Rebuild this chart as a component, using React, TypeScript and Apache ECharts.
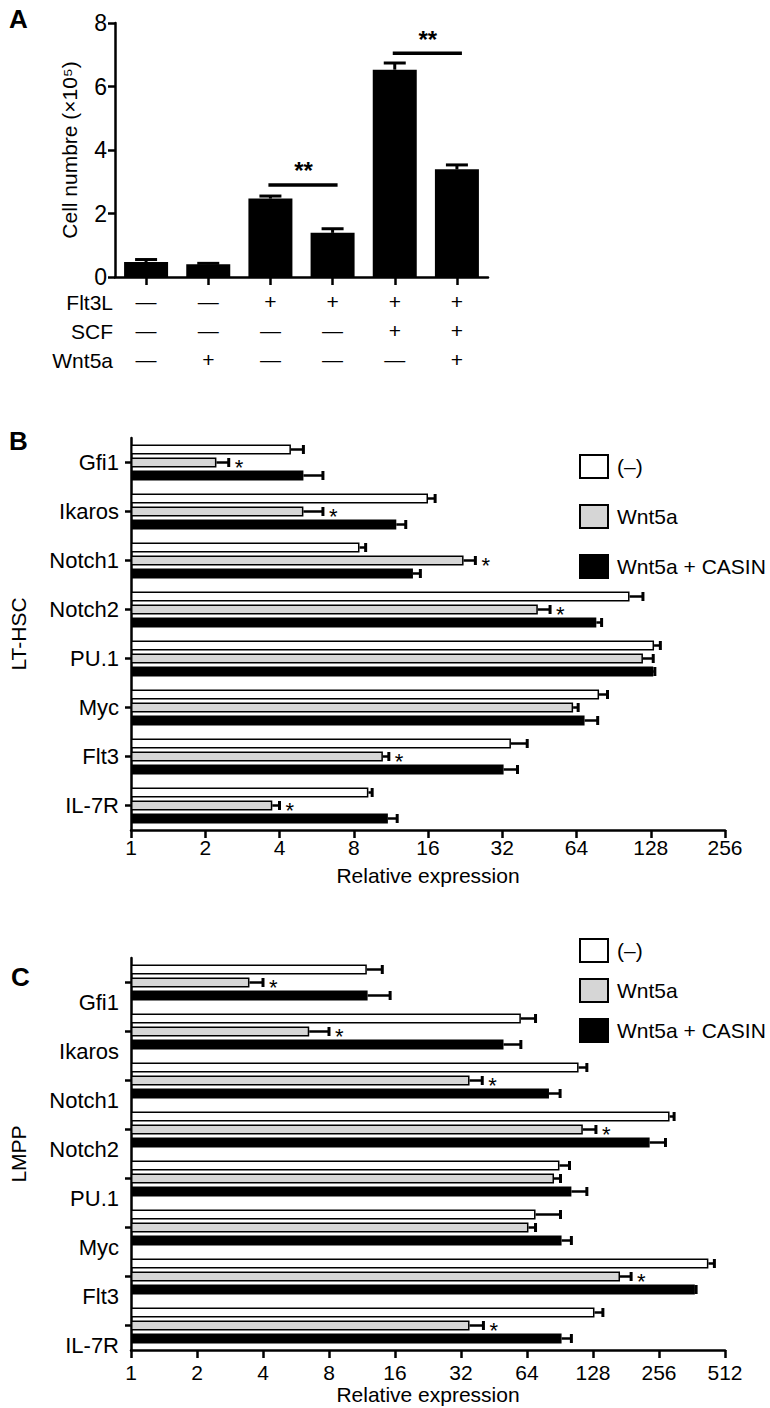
import React, { useEffect, useRef } from 'react';
import * as echarts from 'echarts';

const FONT = '"Liberation Sans", Arial, Helvetica, sans-serif';

// ---------- Panel A ----------
const aValues = [0.47, 0.4, 2.47, 1.39, 6.53, 3.39];
const aErrors = [0.55, 0.43, 2.55, 1.52, 6.74, 3.53];
const aFlt3L = ['—', '—', '+', '+', '+', '+'];
const aSCF = ['—', '—', '—', '—', '+', '+'];
const aWnt5a = ['—', '+', '—', '—', '—', '+'];
const aRowLabels = ['Flt3L', 'SCF', 'Wnt5a'];
const aSig = [
  { from: 2, to: 3, y: 2.9, text: '**' },
  { from: 4, to: 5, y: 7.05, text: '**' },
];

// ---------- Panels B / C ----------
const genes = ['Gfi1', 'Ikaros', 'Notch1', 'Notch2', 'PU.1', 'Myc', 'Flt3', 'IL-7R'];
const seriesNames = ['(–)', 'Wnt5a', 'Wnt5a + CASIN'];
const seriesFill = ['#ffffff', '#d6d6d6', '#000000'];

const bCtrl = [4.45, 16.0, 8.44, 105, 132, 79, 34.7, 9.17];
const bCtrlErr = [5.0, 17.1, 8.94, 119, 140, 85.5, 40.4, 9.5];
const bWnt = [2.22, 5.0, 22.3, 44.6, 119, 62, 10.5, 3.74];
const bWntErr = [2.49, 6.0, 24.9, 50, 131, 65, 11.1, 4.0];
const bCasin = [5.0, 11.9, 13.9, 77, 131, 69, 32.4, 11.0];
const bCasinErr = [6.0, 13.0, 14.9, 80.9, 133, 78, 36.9, 12.0];
const bStars = ['*', '*', '*', '*', '', '', '*', '*'];

const cCtrl = [11.9, 60, 110, 286, 90, 70, 430, 130];
const cCtrlErr = [14.0, 70, 120, 300, 100, 91, 458, 142];
const cWnt = [3.47, 6.5, 35, 115, 85, 65, 170, 35];
const cWntErr = [4.0, 8.0, 40, 132, 91, 70, 191, 40.5];
const cCasin = [12.0, 50, 80.6, 232, 102, 92, 373, 92];
const cCasinErr = [15.2, 60, 90.6, 274, 120, 102, 378, 102];
const cStars = ['*', '*', '*', '*', '', '', '*', '*'];

const BAR_H = 10;
const BAR_STEP = 13;

function barSeries(name: string, idx: number, axis: number, data: number[]) {
  return {
    name,
    type: 'bar',
    xAxisIndex: axis,
    yAxisIndex: axis,
    data,
    barWidth: BAR_H,
    barGap: '30%',
    itemStyle: { color: seriesFill[idx], borderColor: '#000', borderWidth: 1.5 },
    z: 2,
  };
}

function hErrSeries(axis: number, vals: number[][], errs: number[][], stars: string[]) {
  const data: number[][] = [];
  const starList: string[] = [];
  vals.forEach((g, s) =>
    g.forEach((v, c) => {
      data.push([v, c, errs[s][c], s]);
      starList.push(s === 1 ? stars[c] : '');
    })
  );
  return {
    type: 'custom',
    xAxisIndex: axis,
    yAxisIndex: axis,
    data,
    encode: { x: [0, 2], y: 1 },
    z: 5,
    renderItem: (params: any, api: any) => {
      const v = api.value(0);
      const c = api.value(1);
      const e = api.value(2);
      const s = api.value(3);
      const p0 = api.coord([v, c]);
      const p1 = api.coord([e, c]);
      const y = p0[1] + (s - 1) * BAR_STEP;
      const children: any[] = [
        { type: 'line', shape: { x1: p0[0], y1: y, x2: p1[0], y2: y }, style: { stroke: '#000', lineWidth: 2.5 } },
        { type: 'line', shape: { x1: p1[0], y1: y - 4.5, x2: p1[0], y2: y + 4.5 }, style: { stroke: '#000', lineWidth: 3 } },
      ];
      const st = starList[params.dataIndex];
      if (st) {
        children.push({
          type: 'text',
          style: { text: st, x: p1[0] + 6, y: y + 5, align: 'left', verticalAlign: 'middle', font: `22px ${FONT}`, fill: '#000' },
        });
      }
      return { type: 'group', children };
    },
  };
}

function legend(top: number, gap: number) {
  return {
    orient: 'vertical',
    left: 574,
    top,
    itemWidth: 28,
    itemHeight: 23,
    itemGap: gap,
    icon: 'rect',
    selectedMode: false,
    textStyle: { fontSize: 21, color: '#000', fontFamily: FONT, padding: [0, 0, 0, 4] },
    data: seriesNames.map((n, i) => ({
      name: n,
      itemStyle: { color: seriesFill[i], borderColor: '#000', borderWidth: 2 },
    })),
  };
}

const axisLineStyle = { color: '#000', width: 2.5 };

function logXAxis(grid: number, max: number, margin: number, nameGap: number) {
  return {
    type: 'log',
    logBase: 2,
    gridIndex: grid,
    min: 1,
    max,
    axisLine: { show: true, lineStyle: axisLineStyle },
    axisTick: { show: true, length: 8, lineStyle: axisLineStyle },
    axisLabel: {
      fontSize: 21,
      color: '#000',
      fontFamily: FONT,
      margin,
      formatter: (v: number) => String(Math.round(v)),
    },
    splitLine: { show: false },
    minorTick: { show: false },
    name: 'Relative expression',
    nameLocation: 'middle',
    nameGap,
    nameTextStyle: { fontSize: 21, color: '#000', fontFamily: FONT },
  };
}

function catYAxis(grid: number, name: string, shifted: boolean) {
  return {
    type: 'category',
    gridIndex: grid,
    inverse: true,
    data: genes,
    axisLine: { show: true, lineStyle: axisLineStyle },
    axisTick: { show: true, alignWithLabel: true, length: 6, lineStyle: axisLineStyle },
    axisLabel: {
      fontSize: 22,
      color: '#000',
      fontFamily: FONT,
      margin: 12,
      interval: 0,
      lineHeight: shifted ? 40 : 24,
      formatter: shifted ? (v: string) => ` \n${v}` : (v: string) => v,
    },
    name,
    nameLocation: 'middle',
    nameRotate: 90,
    nameGap: 102,
    nameTextStyle: { fontSize: 21, color: '#000', fontFamily: FONT },
  };
}

function buildOption() {
  const aCats = aFlt3L.map((f, i) => `${f}\n${aSCF[i]}\n${aWnt5a[i]}`);
  return {
    animation: false,
    backgroundColor: '#fff',
    textStyle: { fontFamily: FONT },
    grid: [
      { left: 115, top: 23, width: 373, height: 254 },
      { left: 127, top: 438, width: 598, height: 392 },
      { left: 127, top: 958, width: 598, height: 392 },
    ],
    legend: [legend(449, 25), legend(933, 15)],
    xAxis: [
      {
        type: 'category',
        gridIndex: 0,
        data: aCats,
        axisLine: { show: true, lineStyle: axisLineStyle },
        axisTick: { show: true, alignWithLabel: true, length: 8, lineStyle: axisLineStyle },
        axisLabel: { fontSize: 21, lineHeight: 29, color: '#000', fontFamily: FONT, margin: 10, interval: 0 },
      },
      logXAxis(1, 256, 7, 35),
      logXAxis(2, 512, 12, 32),
    ],
    yAxis: [
      {
        type: 'value',
        gridIndex: 0,
        min: 0,
        max: 8,
        interval: 2,
        axisLine: { show: true, lineStyle: axisLineStyle },
        axisTick: { show: true, length: 7, lineStyle: axisLineStyle },
        axisLabel: { fontSize: 23, color: '#000', fontFamily: FONT, margin: 8 },
        splitLine: { show: false },
        name: 'Cell numbre (×10⁵)',
        nameLocation: 'middle',
        nameGap: 35,
        nameTextStyle: { fontSize: 21, color: '#000', fontFamily: FONT },
      },
      catYAxis(1, 'LT-HSC', false),
      catYAxis(2, 'LMPP', true),
    ],
    graphic: [
      { type: 'text', left: 9, top: 6, style: { text: 'A', font: `bold 26px ${FONT}`, fill: '#000' } },
      { type: 'text', left: 9, top: 428, style: { text: 'B', font: `bold 26px ${FONT}`, fill: '#000' } },
      { type: 'text', left: 11, top: 964, style: { text: 'C', font: `bold 26px ${FONT}`, fill: '#000' } },
      ...aRowLabels.map((t, i) => ({
        type: 'text',
        x: 113,
        y: 302 + i * 29,
        style: { text: t, font: `21px ${FONT}`, fill: '#000', align: 'right', verticalAlign: 'middle' },
      })),
    ],
    series: [
      {
        type: 'bar',
        xAxisIndex: 0,
        yAxisIndex: 0,
        data: aValues,
        barWidth: 44,
        itemStyle: { color: '#000' },
      },
      {
        type: 'custom',
        xAxisIndex: 0,
        yAxisIndex: 0,
        data: aValues.map((v, i) => [i, v, aErrors[i]]),
        encode: { x: 0, y: [1, 2] },
        z: 5,
        renderItem: (params: any, api: any) => {
          const p0 = api.coord([api.value(0), api.value(1)]);
          const p1 = api.coord([api.value(0), api.value(2)]);
          return {
            type: 'group',
            children: [
              { type: 'line', shape: { x1: p0[0], y1: p0[1], x2: p1[0], y2: p1[1] }, style: { stroke: '#000', lineWidth: 3 } },
              { type: 'line', shape: { x1: p1[0] - 11, y1: p1[1], x2: p1[0] + 11, y2: p1[1] }, style: { stroke: '#000', lineWidth: 3 } },
            ],
          };
        },
      },
      {
        type: 'custom',
        xAxisIndex: 0,
        yAxisIndex: 0,
        data: aSig.map((s) => [s.from, s.to, s.y]),
        z: 5,
        renderItem: (params: any, api: any) => {
          const a = api.coord([api.value(0), api.value(2)]);
          const b = api.coord([api.value(1), api.value(2)]);
          return {
            type: 'group',
            children: [
              { type: 'line', shape: { x1: a[0] - 2, y1: a[1], x2: b[0] + 5, y2: b[1] }, style: { stroke: '#000', lineWidth: 3.5 } },
              {
                type: 'text',
                style: {
                  text: aSig[params.dataIndex].text,
                  x: (a[0] + b[0]) / 2 + 2,
                  y: a[1] - 2,
                  align: 'center',
                  verticalAlign: 'bottom',
                  font: `bold 24px ${FONT}`,
                  fill: '#000',
                },
              },
            ],
          };
        },
      },
      barSeries(seriesNames[0], 0, 1, bCtrl),
      barSeries(seriesNames[1], 1, 1, bWnt),
      barSeries(seriesNames[2], 2, 1, bCasin),
      hErrSeries(1, [bCtrl, bWnt, bCasin], [bCtrlErr, bWntErr, bCasinErr], bStars),
      barSeries(seriesNames[0], 0, 2, cCtrl),
      barSeries(seriesNames[1], 1, 2, cWnt),
      barSeries(seriesNames[2], 2, 2, cCasin),
      hErrSeries(2, [cCtrl, cWnt, cCasin], [cCtrlErr, cWntErr, cCasinErr], cStars),
    ],
  };
}

export default function App() {
  const ref = useRef<HTMLDivElement>(null);
  useEffect(() => {
    document.body.style.margin = '0';
    const chart = echarts.init(ref.current!, null, { renderer: 'svg' });
    chart.setOption(buildOption() as any);
    return () => chart.dispose();
  }, []);
  return <div ref={ref} style={{ width: 770, height: 1408, background: '#fff' }} />;
}
